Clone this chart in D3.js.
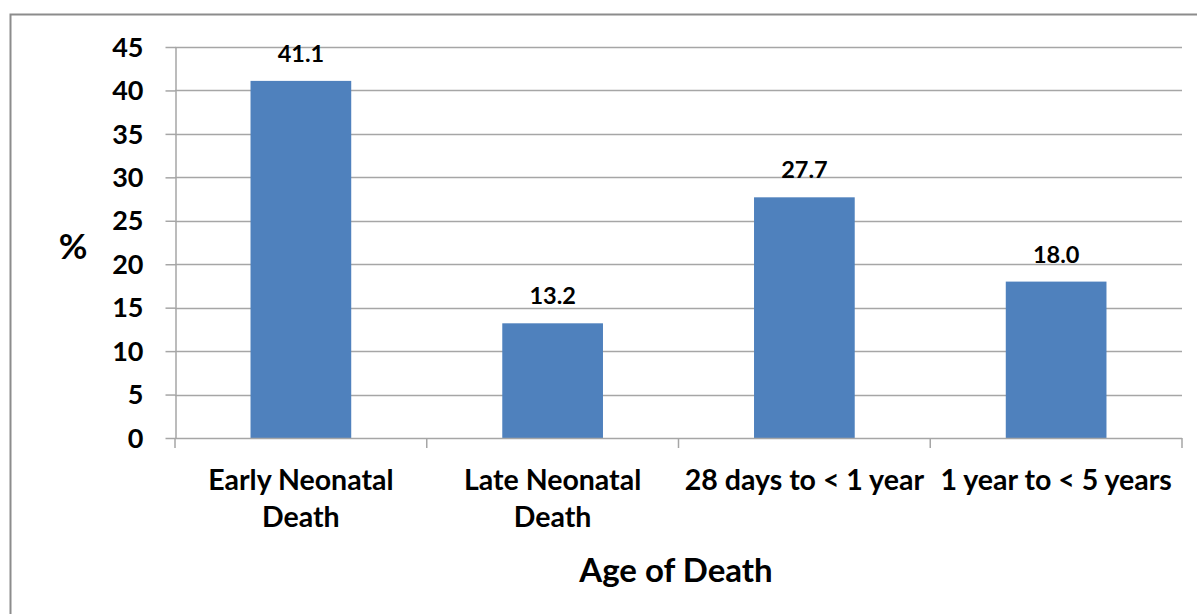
<!DOCTYPE html>
<html>
<head>
<meta charset="utf-8">
<script src="https://cdn.jsdelivr.net/npm/d3@7"></script>
<style>
  body { margin: 0; background: #fff; }
  svg { display: block; font-family: Lato, "Open Sans", sans-serif; }
</style>
</head>
<body>
<div id="chart"></div>
<script>
// Data
const categories = [["Early Neonatal", "Death"], ["Late Neonatal", "Death"], ["28 days to < 1 year"], ["1 year to < 5 years"]];
const values = [41.1, 13.2, 27.7, 18.0];
const yTicks = [0, 5, 10, 15, 20, 25, 30, 35, 40, 45];

const width = 1197, height = 614;
const plot = { left: 175, right: 1182, top: 47, bottom: 438 };

const svg = d3.select("#chart").append("svg")
    .attr("width", width)
    .attr("height", height);

// Outer frame (only top and left sides visible in the crop)
svg.append("rect")
    .attr("x", 10.5).attr("y", 14.5)
    .attr("width", 1200).attr("height", 620)
    .attr("fill", "none")
    .attr("stroke", "#8c8c8c")
    .attr("stroke-width", 2);

const keys = categories.map((c, i) => i);

// Category slots (for ticks) and bars inside them
const xSlot = d3.scaleBand().domain(keys).range([plot.left, plot.right]).padding(0);
const x = d3.scaleBand().domain(keys).range([plot.left, plot.right])
    .paddingInner(0.6).paddingOuter(0.3);
const y = d3.scaleLinear().domain([0, 45]).range([plot.bottom, plot.top]);

// Gridlines
svg.append("g")
    .selectAll("line")
    .data(yTicks.filter(t => t > 0))
    .enter().append("line")
    .attr("x1", plot.left).attr("x2", plot.right)
    .attr("y1", d => Math.round(y(d)) + 0.5).attr("y2", d => Math.round(y(d)) + 0.5)
    .attr("stroke", "#a6a6a6")
    .attr("stroke-width", 1.5);

// Y axis
const yAxis = svg.append("g")
    .attr("transform", `translate(${plot.left + 0.5},0)`)
    .call(d3.axisLeft(y).tickValues(yTicks).tickSize(10).tickPadding(22).tickSizeOuter(0));
yAxis.select(".domain").attr("stroke", "#a6a6a6").attr("stroke-width", 1.5);
yAxis.selectAll(".tick line").attr("stroke", "#a6a6a6").attr("stroke-width", 1.5);
yAxis.selectAll(".tick text")
    .attr("font-family", "Lato, sans-serif")
    .attr("font-size", 27)
    .attr("font-weight", "bold")
    .attr("fill", "#000")
    .attr("dy", "0.34em");

// Bars
svg.append("g")
    .selectAll("rect")
    .data(values)
    .enter().append("rect")
    .attr("x", (d, i) => x(i))
    .attr("width", x.bandwidth())
    .attr("y", d => y(d))
    .attr("height", d => y(0) - y(d))
    .attr("fill", "#4f81bd");

// X axis line and category boundary ticks
const xAxisG = svg.append("g");
xAxisG.append("line")
    .attr("x1", plot.left).attr("x2", plot.right)
    .attr("y1", plot.bottom + 0.5).attr("y2", plot.bottom + 0.5)
    .attr("stroke", "#a6a6a6").attr("stroke-width", 1.5);
xAxisG.selectAll(".xtick")
    .data(keys.concat([keys.length]))
    .enter().append("line")
    .attr("class", "xtick")
    .attr("x1", d => d < keys.length ? xSlot(d) : plot.right)
    .attr("x2", d => d < keys.length ? xSlot(d) : plot.right)
    .attr("y1", plot.bottom).attr("y2", plot.bottom + 10)
    .attr("stroke", "#a6a6a6").attr("stroke-width", 1.5);

// Category labels
const catLabels = svg.append("g")
    .selectAll("text")
    .data(categories)
    .enter().append("text")
    .attr("x", (d, i) => xSlot(i) + xSlot.bandwidth() / 2)
    .attr("y", 490)
    .attr("text-anchor", "middle")
    .attr("font-size", 28.5)
    .attr("font-weight", "bold")
    .attr("fill", "#000");
catLabels.selectAll("tspan")
    .data(d => d)
    .enter().append("tspan")
    .attr("x", function() { return d3.select(this.parentNode).attr("x"); })
    .attr("dy", (d, i) => i === 0 ? 0 : 37)
    .text(d => d);

// Value labels
svg.append("g")
    .selectAll("text")
    .data(values)
    .enter().append("text")
    .attr("x", (d, i) => x(i) + x.bandwidth() / 2)
    .attr("y", d => y(d) - 19)
    .attr("text-anchor", "middle")
    .attr("font-size", 23.5)
    .attr("font-weight", "bold")
    .attr("fill", "#000")
    .text(d => d.toFixed(1));

// Axis titles
svg.append("text")
    .attr("x", 73).attr("y", 259)
    .attr("text-anchor", "middle")
    .attr("font-size", 35)
    .attr("font-weight", "bold")
    .attr("fill", "#000")
    .text("%");

svg.append("text")
    .attr("x", 676).attr("y", 582)
    .attr("text-anchor", "middle")
    .attr("font-size", 33)
    .attr("font-weight", "bold")
    .attr("fill", "#000")
    .text("Age of Death");
</script>
</body>
</html>
